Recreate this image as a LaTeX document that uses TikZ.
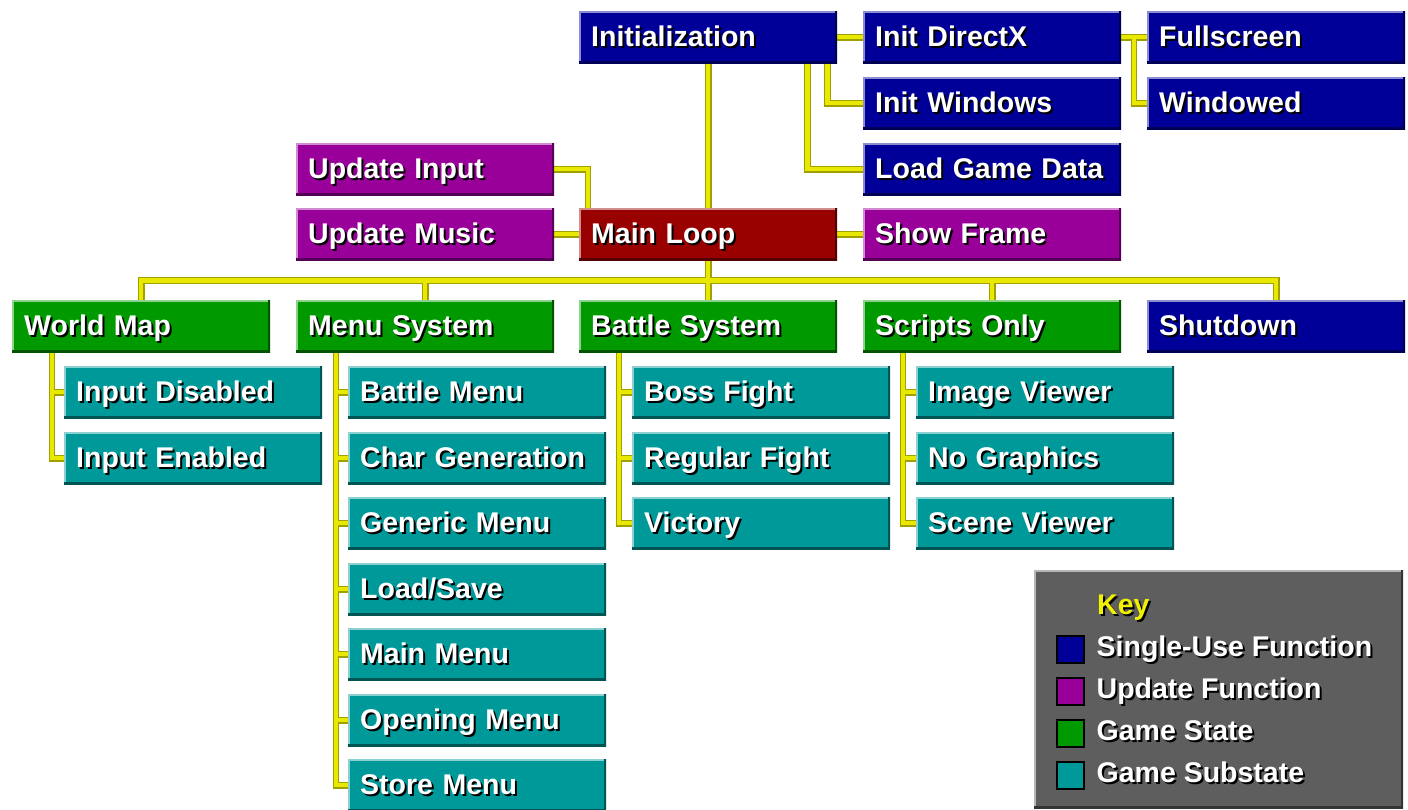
\documentclass[tikz,border=0pt]{standalone}
\usepackage{fontspec}
\setmainfont{Liberation Sans}
\usetikzlibrary{positioning, calc, backgrounds}
\definecolor{navy}{HTML}{000099}
\definecolor{plum}{HTML}{990099}
\definecolor{maroon}{HTML}{990000}
\definecolor{leaf}{HTML}{009900}
\definecolor{lagoon}{HTML}{009999}
\definecolor{slate}{HTML}{5E5E5E}
\definecolor{lemon}{HTML}{E8E800}
\definecolor{olivine}{HTML}{A0A000}
\definecolor{keygold}{HTML}{F0F000}
% white label with a hard black drop shadow
\newcommand\shtext[1]{\makebox[0pt][l]{\hspace{2pt}\raisebox{-2pt}{\color{black}#1}}#1}

\begin{document}
\begin{tikzpicture}[x=1pt, y=-1pt,
    block/.style={fill=#1, text=white, font=\bfseries\fontsize{28.5}{30}\selectfont,
      anchor=north west, minimum width=258pt, minimum height=52pt,
      text width=234pt, inner xsep=12pt, inner ysep=0pt,
      text height=22pt, text depth=3pt, align=left,
      path picture={
        \draw[#1!45!white, line width=3pt] (path picture bounding box.south west)
          -- (path picture bounding box.north west) -- (path picture bounding box.north east);
        \draw[#1!55!black, line width=4pt] (path picture bounding box.north east)
          -- (path picture bounding box.south east) -- (path picture bounding box.south west);}},
    wire/.style={draw=olivine, line width=1.2pt, double=lemon, double distance=4.5pt},
    swatch/.style={draw=black, line width=2pt, fill=#1, minimum size=27pt, inner sep=0pt},
    keytext/.style={anchor=west, inner sep=0pt, text=white, text height=20pt, text depth=5pt,
      font=\bfseries\fontsize{28.5}{30}\selectfont}]
  \useasboundingbox (0,0) rectangle (1408,810);

  % top: start-up and main loop
  \node[block=navy] (init) at (579,11) {\shtext{Initialization}};
  \node[block=navy] (directx) at (863,11) {\shtext{Init DirectX}};
  \node[block=navy] (windows) at (863,77) {\shtext{Init Windows}};
  \node[block=navy] (loaddata) at (863,143) {\shtext{Load Game Data}};
  \node[block=navy] (fullscr) at (1147,11) {\shtext{Fullscreen}};
  \node[block=navy] (windowed) at (1147,77) {\shtext{Windowed}};
  \node[block=plum] (updinput) at (296,143) {\shtext{Update Input}};
  \node[block=plum] (updmusic) at (296,208) {\shtext{Update Music}};
  \node[block=maroon] (mainloop) at (579,208) {\shtext{Main Loop}};
  \node[block=plum] (showframe) at (863,208) {\shtext{Show Frame}};

  % game states
  \node[block=leaf] (worldmap) at (12,300) {\shtext{World Map}};
  \node[block=leaf] (menusys) at (296,300) {\shtext{Menu System}};
  \node[block=leaf] (battlesys) at (579,300) {\shtext{Battle System}};
  \node[block=leaf] (scripts) at (863,300) {\shtext{Scripts Only}};
  \node[block=navy] (shutdown) at (1147,300) {\shtext{Shutdown}};

  % substates
  \node[block=lagoon] (inpdis) at (64,366) {\shtext{Input Disabled}};
  \node[block=lagoon] (inpen) at (64,432) {\shtext{Input Enabled}};
  \node[block=lagoon] (battlemenu) at (348,366) {\shtext{Battle Menu}};
  \node[block=lagoon] (chargen) at (348,432) {\shtext{Char Generation}};
  \node[block=lagoon] (genmenu) at (348,497) {\shtext{Generic Menu}};
  \node[block=lagoon] (loadsave) at (348,563) {\shtext{Load/Save}};
  \node[block=lagoon] (mainmenu) at (348,628) {\shtext{Main Menu}};
  \node[block=lagoon] (openmenu) at (348,694) {\shtext{Opening Menu}};
  \node[block=lagoon] (storemenu) at (348,759) {\shtext{Store Menu}};
  \node[block=lagoon] (boss) at (632,366) {\shtext{Boss Fight}};
  \node[block=lagoon] (regular) at (632,432) {\shtext{Regular Fight}};
  \node[block=lagoon] (victory) at (632,497) {\shtext{Victory}};
  \node[block=lagoon] (imgview) at (916,366) {\shtext{Image Viewer}};
  \node[block=lagoon] (nographics) at (916,432) {\shtext{No Graphics}};
  \node[block=lagoon] (sceneview) at (916,497) {\shtext{Scene Viewer}};

  % key
  \node[block=slate, minimum width=369pt, minimum height=238pt] (key) at (1034,570) {};
  \node[keytext, text=keygold] (keytitle) at (1097,607) {\shtext{Key}};
  \node[swatch=navy] (swnavy) at (1070,649) {};
  \node[swatch=plum] (swplum) at (1070,691) {};
  \node[swatch=leaf] (swleaf) at (1070,733) {};
  \node[swatch=lagoon] (swlagoon) at (1070,775) {};
  \node[keytext, right=12pt of swnavy] {\shtext{Single-Use Function}};
  \node[keytext, right=12pt of swplum] {\shtext{Update Function}};
  \node[keytext, right=12pt of swleaf] {\shtext{Game State}};
  \node[keytext, right=12pt of swlagoon] {\shtext{Game Substate}};

  \coordinate (bus) at ($(mainloop.south)+(0,20)$);
  \coordinate (wmtrunk) at ($(worldmap.south west)+(40,0)$);
  \coordinate (mstrunk) at ($(menusys.south west)+(40,0)$);
  \coordinate (bstrunk) at ($(battlesys.south west)+(40,0)$);
  \coordinate (sotrunk) at ($(scripts.south west)+(40,0)$);

  \begin{scope}[on background layer]
    \draw[wire]
      (init) -- (mainloop)
      (init) -- (directx) (directx) -- (fullscr)
      ($(fullscr.west)+(-13,0)$) |- (windowed.west)
      ($(init.south east)+(-10,0)$) |- (windows.west)
      ($(init.south east)+(-30,0)$) |- (loaddata.west)
      (updinput.east) -| ($(mainloop.north west)+(9,0)$)
      (updmusic) -- (mainloop) (mainloop) -- (showframe)
      (mainloop.south) -- (bus)
      (worldmap.north) |- (bus) -| (shutdown.north)
      (menusys.north) -- (menusys.north |- bus)
      (battlesys.north) -- (battlesys.north |- bus)
      (scripts.north) -- (scripts.north |- bus)
      (wmtrunk) |- (inpen.west) (wmtrunk |- inpdis.west) -- (inpdis.west)
      (mstrunk) |- (storemenu.west)
      (mstrunk |- battlemenu.west) -- (battlemenu.west)
      (mstrunk |- chargen.west) -- (chargen.west)
      (mstrunk |- genmenu.west) -- (genmenu.west)
      (mstrunk |- loadsave.west) -- (loadsave.west)
      (mstrunk |- mainmenu.west) -- (mainmenu.west)
      (mstrunk |- openmenu.west) -- (openmenu.west)
      (bstrunk) |- (victory.west)
      (bstrunk |- boss.west) -- (boss.west)
      (bstrunk |- regular.west) -- (regular.west)
      (sotrunk) |- (sceneview.west)
      (sotrunk |- imgview.west) -- (imgview.west)
      (sotrunk |- nographics.west) -- (nographics.west);
  \end{scope}
\end{tikzpicture}
\end{document}
